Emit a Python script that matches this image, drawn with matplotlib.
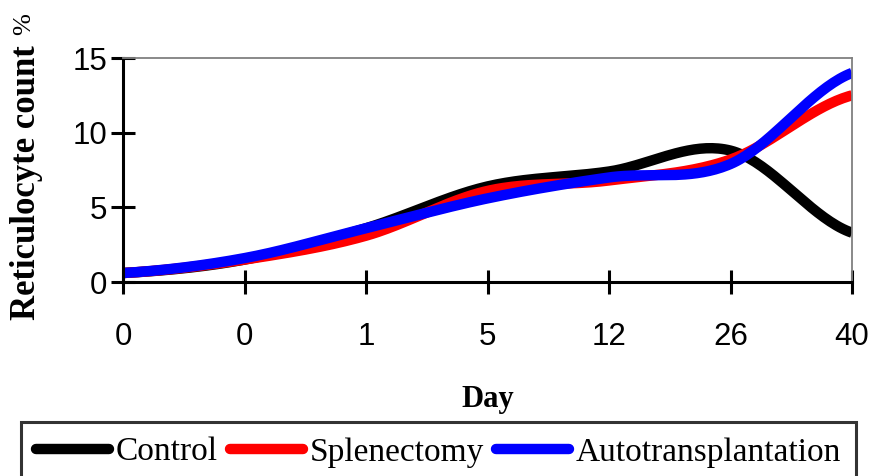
import numpy as np
import matplotlib
matplotlib.use("Agg")
import matplotlib.pyplot as plt

# ---- data ----
day_labels = ['0', '0', '1', '5', '12', '26', '40']
control = [0.6, 1.5, 3.6, 6.4, 7.4, 8.8, 3.3]
splenectomy = [0.6, 1.5, 3.1, 6.1, 6.8, 8.2, 12.5]
autotransplantation = [0.6, 1.6, 3.6, 5.6, 7.0, 7.9, 14.0]
series_names = ['Control', 'Splenectomy', 'Autotransplantation']
series_colors = ['#000000', '#ff0000', '#0000ff']


def smooth(y, n=40):
    """Catmull-Rom (Excel-style) smoothing through the given points."""
    y = np.asarray(y, dtype=float)
    x = np.arange(len(y), dtype=float)
    yp = np.concatenate([[y[0]], y, [y[-1]]])
    xs, ys = [], []
    for i in range(len(y) - 1):
        p0, p1, p2, p3 = yp[i], yp[i + 1], yp[i + 2], yp[i + 3]
        m1 = (p2 - p0) / 2.0
        m2 = (p3 - p1) / 2.0
        t = np.linspace(0, 1, n, endpoint=(i == len(y) - 2))
        h00 = 2 * t**3 - 3 * t**2 + 1
        h10 = t**3 - 2 * t**2 + t
        h01 = -2 * t**3 + 3 * t**2
        h11 = t**3 - t**2
        ys.append(h00 * p1 + h10 * m1 + h01 * p2 + h11 * m2)
        xs.append(x[i] + t)
    return np.concatenate(xs), np.concatenate(ys)


fig = plt.figure(figsize=(8.75, 4.76), dpi=100)

ax = fig.add_axes([123 / 875, 1 - 282 / 476, (852 - 123) / 875, (282 - 58) / 476])

for vals, name, col in zip([control, splenectomy, autotransplantation], series_names, series_colors):
    xs, ys = smooth(vals)
    ax.plot(xs, ys, color=col, lw=7.5, label=name, solid_capstyle='butt')

ax.set_xlim(0, len(day_labels) - 1)
ax.set_ylim(0, 15)
ax.set_xticks(range(len(day_labels)))
ax.set_xticklabels(day_labels)
ax.set_yticks([0, 5, 10, 15])

for s in ['left', 'bottom']:
    ax.spines[s].set_linewidth(2.2)
    ax.spines[s].set_color('black')
for s in ['top', 'right']:
    ax.spines[s].set_linewidth(1.3)
    ax.spines[s].set_color('#808080')

ax.tick_params(axis='both', direction='inout', length=17, width=2.2,
               labelsize=22.5, labelfontfamily='Liberation Sans')
ax.tick_params(axis='x', pad=20)
ax.tick_params(axis='y', pad=3)

ax.set_xlabel('Day', fontsize=22, family='Liberation Serif', fontweight='bold', labelpad=24)
fig.text(27 / 875, 1 - 183 / 476, 'Reticulocyte count', rotation=90, fontsize=25,
         family='Liberation Serif', fontweight='bold', ha='center', va='center')
fig.text(24 / 875, 1 - 24 / 476, '%', rotation=90, fontsize=19,
         family='Liberation Serif', ha='center', va='center')

leg = fig.legend(loc='upper left', bbox_to_anchor=(21 / 875, 1 - 422 / 476), ncol=3,
                 frameon=True, fancybox=False, edgecolor='black',
                 prop={'family': 'Liberation Serif', 'size': 24},
                 handlelength=2.2, handletextpad=0.2, columnspacing=0.35,
                 borderpad=0.45, borderaxespad=0)
leg.get_frame().set_linewidth(2.2)
for ln in leg.get_lines():
    ln.set_linewidth(7.5)
    ln.set_solid_capstyle('round')

fig.savefig('out.png', dpi=100)
